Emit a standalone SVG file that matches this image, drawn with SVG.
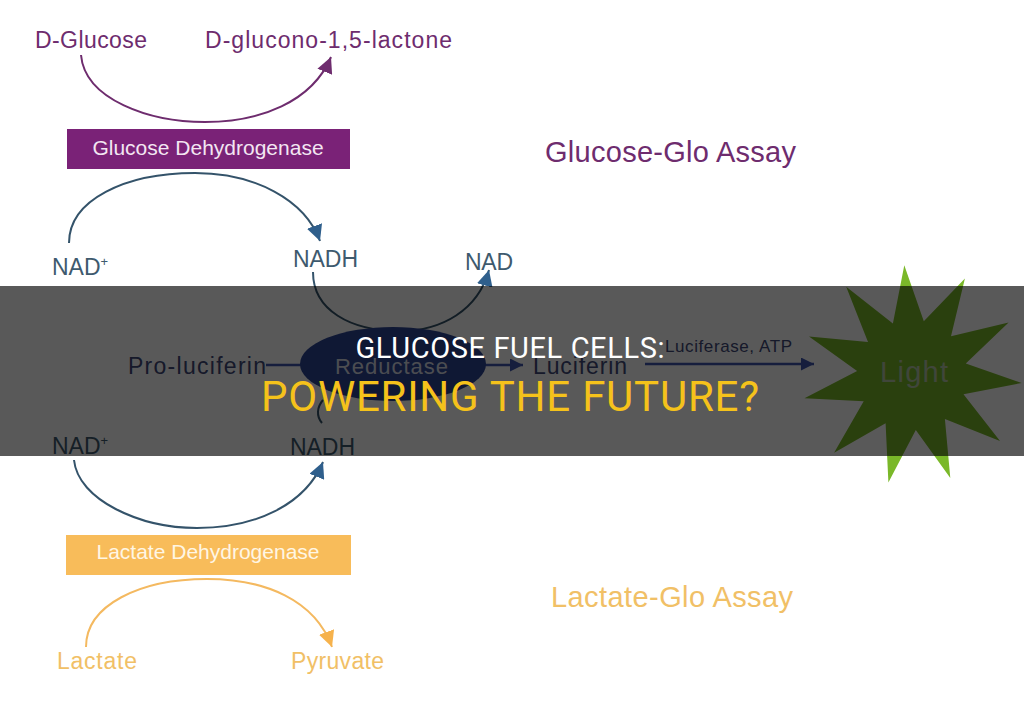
<svg xmlns="http://www.w3.org/2000/svg" width="1024" height="723" viewBox="0 0 1024 723">
<style>
  text { font-family: "Liberation Sans", Arial, sans-serif; }
  .lbl { font-size: 23px; }
  .purple { fill: #6e2c6e; }
  .teal { fill: #3e5a6e; }
  .yellow { fill: #f1c066; }
  .navyt { fill: #404878; }
  .arc { fill: none; stroke-width: 2; }
  .title1 { font-family: Roboto, "Liberation Sans", sans-serif; font-size: 29px; fill: #ffffff; }
  .title2 { font-family: Roboto, "Liberation Sans", sans-serif; font-size: 42px; fill: #f5c21b; }
</style>
<defs>
  <marker id="ah-purple" viewBox="0 0 10 10" refX="10" refY="5" markerWidth="16" markerHeight="16" markerUnits="userSpaceOnUse" orient="auto"><path d="M0,0 L10,5 L0,10 z" fill="#6e2c6e"/></marker>
  <marker id="ah-teal" viewBox="0 0 10 10" refX="10" refY="5" markerWidth="16" markerHeight="16" markerUnits="userSpaceOnUse" orient="auto"><path d="M0,0 L10,5 L0,10 z" fill="#2f5f8c"/></marker>
  <marker id="ah-navy" viewBox="0 0 10 10" refX="10" refY="5" markerWidth="13" markerHeight="13" markerUnits="userSpaceOnUse" orient="auto"><path d="M0,0 L10,5 L0,10 z" fill="#3f58b0"/></marker>
  <marker id="ah-yellow" viewBox="0 0 10 10" refX="10" refY="5" markerWidth="16" markerHeight="16" markerUnits="userSpaceOnUse" orient="auto"><path d="M0,0 L10,5 L0,10 z" fill="#f6b24c"/></marker>
</defs>
<rect x="0" y="0" width="1024" height="723" fill="#ffffff"/>

<g id="connectors">
  <path class="arc" stroke="#6e2c6e" d="M81,55 C85,100 150,122 205,122 C260,122 312,102 331,57" marker-end="url(#ah-purple)"/>
  <path class="arc" stroke="#34536a" d="M69,243 C69,200 125,173 195,173 C255,173 305,200 320,241" marker-end="url(#ah-teal)"/>
  <path class="arc" stroke="#34536a" d="M313,272 C313,310 350,331 400,331 C442,331 478,310 489,270" marker-end="url(#ah-teal)"/>
  <path class="arc" stroke="#34536a" d="M323,400 C317,407 316,416 322,423"/>
  <path class="arc" stroke="#34536a" d="M74,460 C78,500 140,528 197,528 C255,528 305,505 323,462" marker-end="url(#ah-teal)"/>
  <path class="arc" stroke="#f4b960" d="M86,647 C86,605 140,579 207,579 C265,579 315,600 332,647" marker-end="url(#ah-yellow)"/>
  <line x1="266" y1="365" x2="523" y2="365" stroke="#3f58b0" stroke-width="2.5" marker-end="url(#ah-navy)"/>
  <line x1="645" y1="364" x2="814" y2="364" stroke="#3f58b0" stroke-width="2.5" marker-end="url(#ah-navy)"/>
</g>

<g id="n-dglucose"><text class="lbl purple" x="35" y="48" textLength="112">D-Glucose</text></g>
<g id="n-lactone"><text class="lbl purple" x="205" y="48" textLength="247">D-glucono-1,5-lactone</text></g>
<g id="n-gdh">
  <rect x="67" y="129" width="283" height="40" fill="#7a2277"/>
  <text x="208" y="155" font-size="21" fill="#f3e6f2" text-anchor="middle">Glucose Dehydrogenase</text>
</g>
<g id="n-glucose-assay"><text class="purple" x="545" y="162" font-size="29" textLength="251">Glucose-Glo Assay</text></g>
<g id="n-nad1"><text class="lbl teal" x="52" y="275">NAD<tspan font-size="13" dy="-9">+</tspan></text></g>
<g id="n-nadh1"><text class="lbl teal" x="293" y="267" textLength="65">NADH</text></g>
<g id="n-nad2"><text class="lbl teal" x="465" y="270" textLength="48">NAD</text></g>
<g id="n-proluciferin"><text class="lbl navyt" x="128" y="374" textLength="138">Pro-luciferin</text></g>
<g id="n-reductase">
  <ellipse cx="393" cy="364" rx="93" ry="37" fill="#2c4596"/>
  <text x="335" y="374" font-size="22" fill="#d8dce8" textLength="113">Reductase</text>
</g>
<g id="n-luciferin"><text class="lbl navyt" x="533" y="374" textLength="94">Luciferin</text></g>
<text class="navyt" x="665" y="352" font-size="17" textLength="127">Luciferase, ATP</text>
<g id="n-light">
  <polygon fill="#7ab829" points="904.3,265.3 923.8,321.3 964.9,278.5 951.0,336.2 1008.6,322.4 965.8,363.4 1021.7,383.0 963.5,394.3 1000.0,441.1 944.9,419.1 950.3,478.1 915.8,429.9 888.4,482.4 885.6,423.2 834.1,452.7 863.7,401.3 804.5,398.2 857.1,371.0 809.0,336.4 868.0,342.0 846.2,286.8 892.9,323.4"/>
  <text x="880" y="382" font-size="29" fill="#b8c8a8" textLength="68">Light</text>
</g>
<g id="n-nad3"><text class="lbl teal" x="52" y="454">NAD<tspan font-size="13" dy="-9">+</tspan></text></g>
<g id="n-nadh2"><text class="lbl teal" x="290" y="455" textLength="65">NADH</text></g>
<g id="n-ldh">
  <rect x="66" y="535" width="285" height="40" fill="#f8bc5a"/>
  <text x="208" y="559" font-size="21" fill="#fff6e4" text-anchor="middle">Lactate Dehydrogenase</text>
</g>
<g id="n-lactate"><text class="lbl yellow" x="57" y="669" textLength="80">Lactate</text></g>
<g id="n-pyruvate"><text class="lbl yellow" x="291" y="669" textLength="93">Pyruvate</text></g>
<g id="n-lactate-assay"><text class="yellow" x="551" y="607" font-size="29" textLength="242">Lactate-Glo Assay</text></g>

<g id="overlay">
  <rect x="0" y="286" width="1024" height="170" fill="#000000" opacity="0.65"/>
  <text class="title1" x="510" y="358" text-anchor="middle" textLength="309">GLUCOSE FUEL CELLS:</text>
  <text class="title2" x="510" y="411" text-anchor="middle" textLength="498">POWERING THE FUTURE?</text>
</g>
</svg>
